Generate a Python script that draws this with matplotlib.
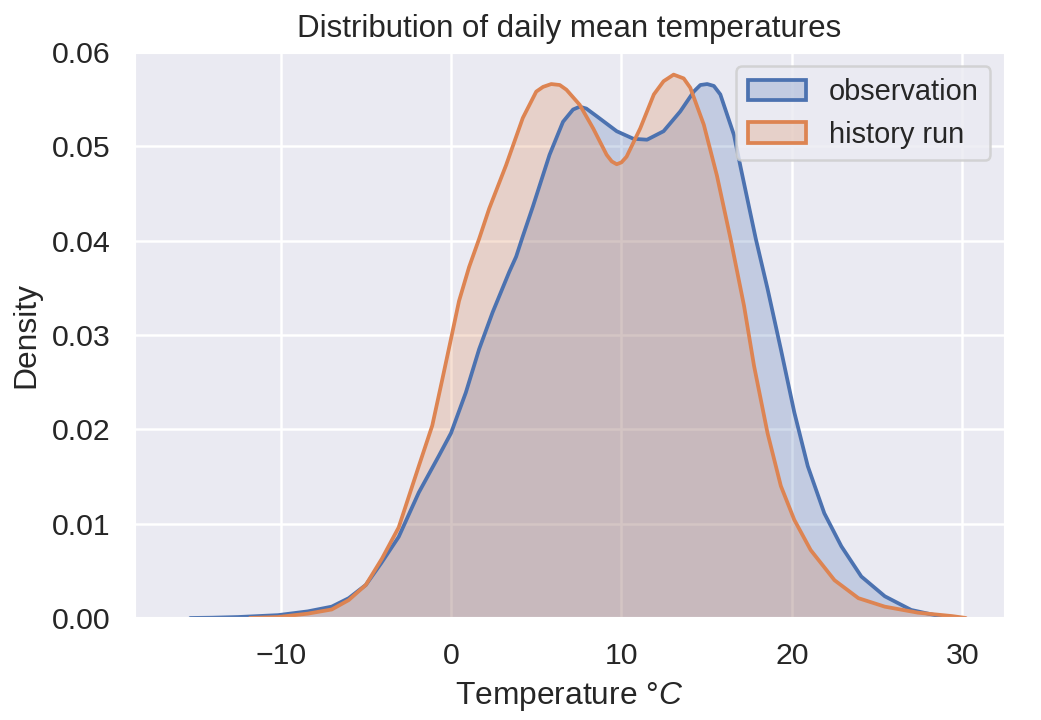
import matplotlib
matplotlib.use("Agg")
import matplotlib.pyplot as plt
from matplotlib.patches import Patch
import seaborn as sns

# Density curves
obs_temp = [-15.3, -14, -12.5, -10.15, -8.4, -7.0, -6.0, -5.0, -4.1, -3.07, -1.89, -0.71,
            0, 0.87, 1.65, 2.44, 3.42, 3.82, 4.2, 4.8, 5.78, 6.57, 7.16, 7.55, 7.94,
            8.54, 9.72, 10.7, 11.5, 12.47, 13.45, 14.24, 14.63, 15.03, 15.42, 15.8,
            16.6, 17.0, 17.88, 18.57, 19.35, 20.14, 20.93, 21.9, 22.9, 24.07, 25.45,
            27.0, 28.4, 29.6]
obs_density = [0, 0.00003, 0.0001, 0.0003, 0.0007, 0.0012, 0.0021, 0.0035, 0.0058,
               0.0086, 0.0133, 0.0172, 0.0196, 0.0239, 0.0285, 0.0324, 0.0367, 0.0383,
               0.0404, 0.0436, 0.0491, 0.0526, 0.0539, 0.0542, 0.0540, 0.0532, 0.0516,
               0.0508, 0.0507, 0.0516, 0.0537, 0.0558, 0.0565, 0.0566, 0.0564, 0.0555,
               0.0512, 0.0477, 0.0402, 0.0349, 0.0285, 0.0218, 0.0161, 0.0111, 0.0076,
               0.0044, 0.0023, 0.00085, 0.0003, 0]

hist_temp = [-11.8, -10.15, -8.4, -7.0, -6.0, -5.0, -4.05, -3.07, -1.89, -1.1, -0.51, 0,
             0.47, 1.06, 1.65, 2.24, 3.23, 4.21, 5.0, 5.4, 5.88, 6.38, 6.77, 7.55, 8.34,
             9.13, 9.43, 9.72, 10.0, 10.3, 11.1, 11.9, 12.47, 13.06, 13.65, 14.04,
             14.83, 15.6, 16.4, 17.19, 17.78, 18.57, 19.35, 20.14, 21.1, 22.5, 23.9,
             25.45, 27.4, 29.4, 30.2]
hist_density = [0, 0.0001, 0.00046, 0.0009, 0.0019, 0.0035, 0.0063, 0.0096, 0.0161,
                0.0204, 0.0253, 0.0296, 0.0336, 0.0372, 0.0402, 0.0434, 0.048, 0.053,
                0.0558, 0.0563, 0.0566, 0.0565, 0.056, 0.0544, 0.0519, 0.0491, 0.0484,
                0.0481, 0.0483, 0.0489, 0.0519, 0.0555, 0.0569, 0.0576, 0.0572, 0.0562,
                0.0523, 0.0469, 0.0402, 0.0331, 0.0267, 0.0196, 0.014, 0.0104, 0.0072,
                0.004, 0.0021, 0.0012, 0.00056, 0.0002, 0]

sns.set_theme(style="darkgrid", context="notebook")
plt.rcParams['font.family'] = ['Liberation Sans', 'DejaVu Sans']
plt.rcParams['mathtext.fontset'] = 'custom'
plt.rcParams['mathtext.rm'] = 'Liberation Sans'
plt.rcParams['mathtext.it'] = 'Liberation Sans:italic'
plt.rcParams['xtick.labelsize'] = 12.1
plt.rcParams['ytick.labelsize'] = 12.1
plt.rcParams['axes.labelsize'] = 12.7
plt.rcParams['axes.titlesize'] = 12.5
plt.rcParams['legend.fontsize'] = 11.6

blue, orange = sns.color_palette("deep")[:2]

fig = plt.figure(figsize=(1041 / 180, 720 / 180), dpi=180)
ax = fig.add_axes([0.1287, 0.1417, 0.8367, 0.7861])

ax.fill_between(obs_temp, obs_density, color=blue, alpha=0.25, lw=0)
ax.plot(obs_temp, obs_density, color=blue, solid_joinstyle="round")
ax.fill_between(hist_temp, hist_density, color=orange, alpha=0.25, lw=0)
ax.plot(hist_temp, hist_density, color=orange, solid_joinstyle="round")

# legend handles like seaborn's filled kde
handles = [Patch(facecolor=(*blue, 0.25), edgecolor=blue, lw=1.5, label="observation"),
           Patch(facecolor=(*orange, 0.25), edgecolor=orange, lw=1.5, label="history run")]
ax.legend(handles=handles, loc="upper right")

ax.set_xlim(-18.6, 32.5)
ax.set_ylim(0, 0.06)
ax.set_title("Distribution of daily mean temperatures")
ax.set_xlabel("Temperature °$C$")
ax.set_ylabel("Density")

fig.savefig("out.png", dpi=180)
